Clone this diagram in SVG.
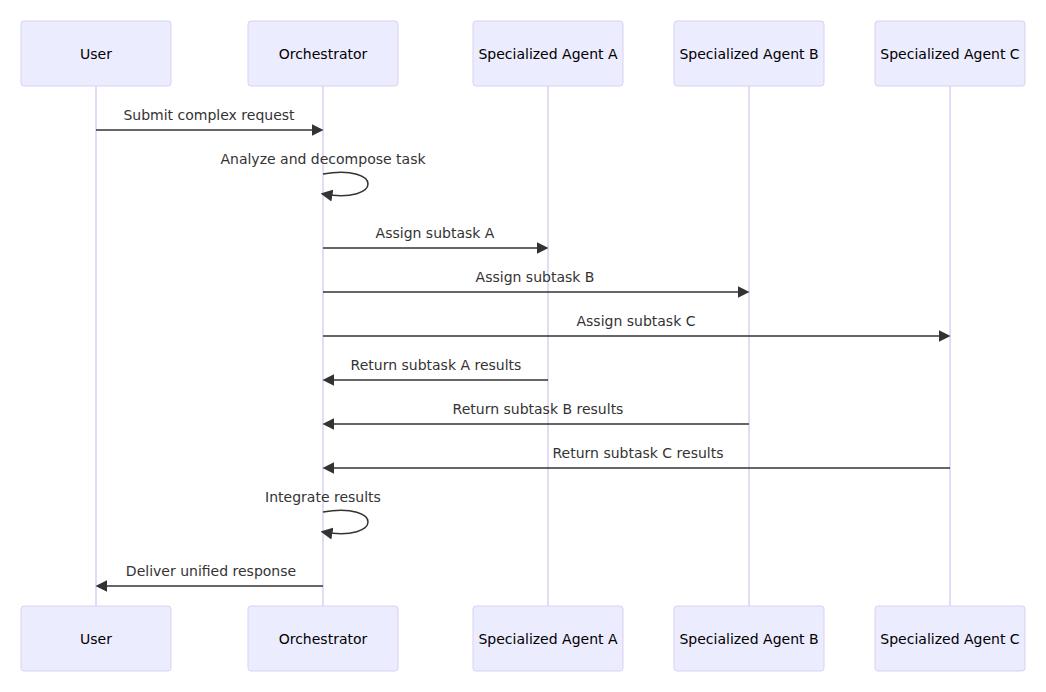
<svg xmlns="http://www.w3.org/2000/svg" width="1046" height="692" viewBox="0 0 1046 692">
<style>
.actor{fill:#ECECFF;stroke:#D9D1F5;stroke-width:1}
.atext{font-family:"DejaVu Sans",Verdana,sans-serif;font-size:14px;fill:#000;text-anchor:middle;dominant-baseline:central}
.life{stroke:#D9D1F5;stroke-width:1.5}
.msg{stroke:#333;stroke-width:1.5;fill:none}
.mtext{font-family:"DejaVu Sans",Verdana,sans-serif;font-size:14px;fill:#333;text-anchor:middle}
</style>
<defs>
<marker id="ah" markerUnits="userSpaceOnUse" markerWidth="12" markerHeight="12" refX="7.9" refY="5" orient="auto" viewBox="0 0 10 10">
<path d="M0,0 L10,5 L0,10 z" fill="#333"/>
</marker>
</defs>
<rect width="1046" height="692" fill="#fff"/>
<g id="lifelines">
<line class="life" x1="96" y1="86" x2="96" y2="606"/>
<line class="life" x1="323" y1="86" x2="323" y2="606"/>
<line class="life" x1="548" y1="86" x2="548" y2="606"/>
<line class="life" x1="749" y1="86" x2="749" y2="606"/>
<line class="life" x1="950" y1="86" x2="950" y2="606"/>
</g>
<g id="user-top"><rect class="actor" x="21" y="21" width="150" height="65" rx="3"/><text class="atext" x="96" y="54">User</text></g>
<g id="orch-top"><rect class="actor" x="248" y="21" width="150" height="65" rx="3"/><text class="atext" x="323" y="54">Orchestrator</text></g>
<g id="a-top"><rect class="actor" x="473" y="21" width="150" height="65" rx="3"/><text class="atext" x="548" y="54">Specialized Agent A</text></g>
<g id="b-top"><rect class="actor" x="674" y="21" width="150" height="65" rx="3"/><text class="atext" x="749" y="54">Specialized Agent B</text></g>
<g id="c-top"><rect class="actor" x="875" y="21" width="150" height="65" rx="3"/><text class="atext" x="950" y="54">Specialized Agent C</text></g>
<g id="user-bottom"><rect class="actor" x="21" y="606" width="150" height="65" rx="3"/><text class="atext" x="96" y="639">User</text></g>
<g id="orch-bottom"><rect class="actor" x="248" y="606" width="150" height="65" rx="3"/><text class="atext" x="323" y="639">Orchestrator</text></g>
<g id="a-bottom"><rect class="actor" x="473" y="606" width="150" height="65" rx="3"/><text class="atext" x="548" y="639">Specialized Agent A</text></g>
<g id="b-bottom"><rect class="actor" x="674" y="606" width="150" height="65" rx="3"/><text class="atext" x="749" y="639">Specialized Agent B</text></g>
<g id="c-bottom"><rect class="actor" x="875" y="606" width="150" height="65" rx="3"/><text class="atext" x="950" y="639">Specialized Agent C</text></g>
<g id="connectors">
<line class="msg" x1="96" y1="130" x2="321" y2="130" marker-end="url(#ah)"/>
<path class="msg" d="M323,174 C383,164 383,204 323,194" marker-end="url(#ah)"/>
<line class="msg" x1="323" y1="248" x2="546" y2="248" marker-end="url(#ah)"/>
<line class="msg" x1="323" y1="292" x2="747" y2="292" marker-end="url(#ah)"/>
<line class="msg" x1="323" y1="336" x2="948" y2="336" marker-end="url(#ah)"/>
<line class="msg" x1="548" y1="380" x2="325" y2="380" marker-end="url(#ah)"/>
<line class="msg" x1="749" y1="424" x2="325" y2="424" marker-end="url(#ah)"/>
<line class="msg" x1="950" y1="468" x2="325" y2="468" marker-end="url(#ah)"/>
<path class="msg" d="M323,512 C383,502 383,542 323,532" marker-end="url(#ah)"/>
<line class="msg" x1="323" y1="586" x2="98" y2="586" marker-end="url(#ah)"/>
</g>
<g id="labels">
<text class="mtext" x="209" y="120">Submit complex request</text>
<text class="mtext" x="323" y="164">Analyze and decompose task</text>
<text class="mtext" x="435" y="238">Assign subtask A</text>
<text class="mtext" x="535" y="282">Assign subtask B</text>
<text class="mtext" x="636" y="326">Assign subtask C</text>
<text class="mtext" x="436" y="370">Return subtask A results</text>
<text class="mtext" x="538" y="414">Return subtask B results</text>
<text class="mtext" x="638" y="458">Return subtask C results</text>
<text class="mtext" x="323" y="502">Integrate results</text>
<text class="mtext" x="211" y="576">Deliver unified response</text>
</g>
</svg>
